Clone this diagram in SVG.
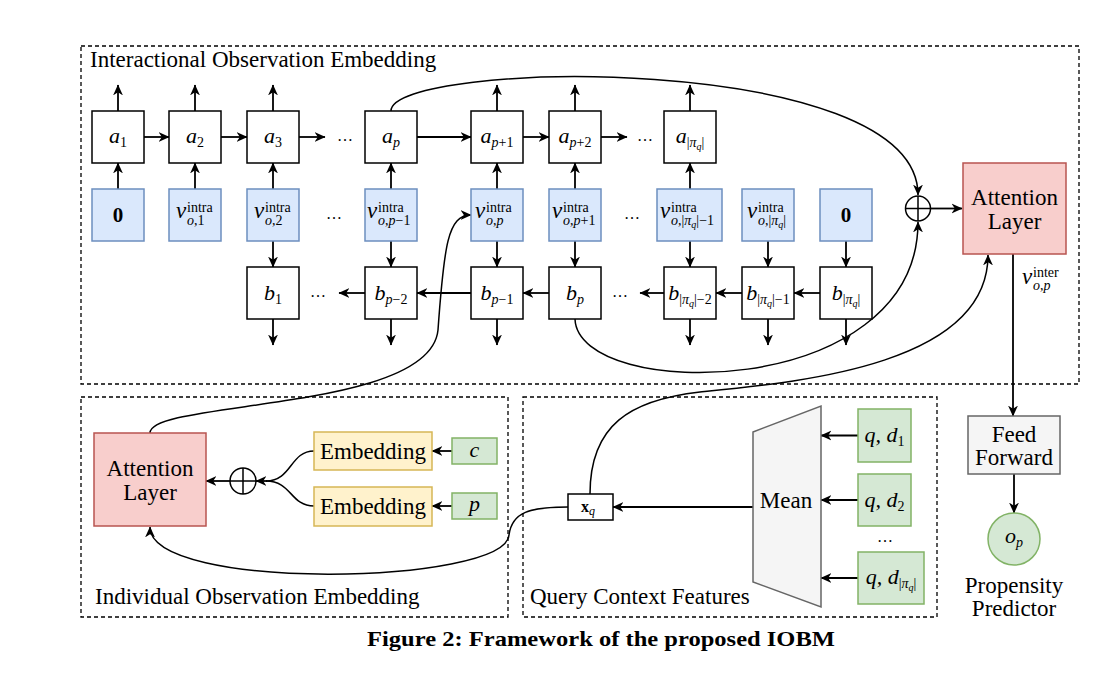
<svg xmlns="http://www.w3.org/2000/svg" width="1104" height="676" viewBox="0 0 1104 676">
<defs>
<marker id="ah" viewBox="0 0 10 10" refX="9.5" refY="5" markerWidth="11" markerHeight="11" orient="auto" markerUnits="userSpaceOnUse">
<path d="M0,0.5 L10,5 L0,9.5 L3,5 z" fill="#000"/>
</marker>
<style>
.panel{fill:none;stroke:#000;stroke-width:1.3;stroke-dasharray:4 3}
.bx{fill:#fff;stroke:#000;stroke-width:1.5}
.blue{fill:#dae8fc;stroke:#6c8ebf;stroke-width:1.5}
.pink{fill:#f8cecc;stroke:#b85450;stroke-width:1.5}
.yel{fill:#fff2cc;stroke:#d6b656;stroke-width:1.5}
.grn{fill:#d5e8d4;stroke:#82b366;stroke-width:1.5}
.gry{fill:#f5f5f5;stroke:#666;stroke-width:1.5}
.ln{fill:none;stroke:#000;stroke-width:1.8}
.ar{fill:none;stroke:#000;stroke-width:1.8;marker-end:url(#ah)}
.cv{fill:none;stroke:#000;stroke-width:1.5}
.cva{fill:none;stroke:#000;stroke-width:1.5;marker-end:url(#ah)}
.t{font-family:"Liberation Serif",serif;font-size:23px;fill:#000}
.mi{font-family:"Liberation Serif",serif;font-style:italic;font-size:22px;fill:#000}
.up{font-style:normal}
.s{font-size:14px}
.ss{font-size:10px}
.bold0{font-family:"Liberation Serif",serif;font-weight:bold;font-size:21px}
.dots{font-family:"Liberation Serif",serif;font-size:16px}
</style>
</defs>

<!-- panels -->
<g id="panel-interactional">
<rect class="panel" x="81" y="46" width="998" height="338"/>
<text class="t" x="90" y="67">Interactional Observation Embedding</text>
</g>
<g id="panel-individual">
<rect class="panel" x="81" y="397" width="427" height="220"/>
<text class="t" x="95" y="604">Individual Observation Embedding</text>
</g>
<g id="panel-query">
<rect class="panel" x="523" y="397" width="414" height="220"/>
<text class="t" x="530" y="604">Query Context Features</text>
</g>

<!-- connectors -->
<g id="connectors">
<line class="ar" x1="118" y1="111" x2="118" y2="85"/>
<line class="ar" x1="195" y1="111" x2="195" y2="85"/>
<line class="ar" x1="273" y1="111" x2="273" y2="85"/>
<line class="ar" x1="497" y1="111" x2="497" y2="85"/>
<line class="ar" x1="575" y1="111" x2="575" y2="85"/>
<line class="ar" x1="690" y1="111" x2="690" y2="85"/>
<line class="ar" x1="118" y1="189" x2="118" y2="163"/>
<line class="ar" x1="195" y1="189" x2="195" y2="163"/>
<line class="ar" x1="273" y1="189" x2="273" y2="163"/>
<line class="ar" x1="391" y1="189" x2="391" y2="163"/>
<line class="ar" x1="497" y1="189" x2="497" y2="163"/>
<line class="ar" x1="575" y1="189" x2="575" y2="163"/>
<line class="ar" x1="690" y1="189" x2="690" y2="163"/>
<line class="ar" x1="273" y1="241" x2="273" y2="267"/>
<line class="ar" x1="391" y1="241" x2="391" y2="267"/>
<line class="ar" x1="497" y1="241" x2="497" y2="267"/>
<line class="ar" x1="575" y1="241" x2="575" y2="267"/>
<line class="ar" x1="690" y1="241" x2="690" y2="267"/>
<line class="ar" x1="768" y1="241" x2="768" y2="267"/>
<line class="ar" x1="846" y1="241" x2="846" y2="267"/>
<line class="ar" x1="273" y1="319" x2="273" y2="345"/>
<line class="ar" x1="391" y1="319" x2="391" y2="345"/>
<line class="ar" x1="497" y1="319" x2="497" y2="345"/>
<line class="ar" x1="690" y1="319" x2="690" y2="345"/>
<line class="ar" x1="768" y1="319" x2="768" y2="345"/>
<line class="ar" x1="846" y1="319" x2="846" y2="345"/>
<line class="ar" x1="144" y1="137" x2="169" y2="137"/>
<line class="ar" x1="221" y1="137" x2="247" y2="137"/>
<line class="ar" x1="299" y1="137" x2="325" y2="137"/>
<line class="ar" x1="417" y1="137" x2="471" y2="137"/>
<line class="ar" x1="523" y1="137" x2="549" y2="137"/>
<line class="ar" x1="601" y1="137" x2="627" y2="137"/>
<line class="ar" x1="820" y1="293" x2="794" y2="293"/>
<line class="ar" x1="742" y1="293" x2="716" y2="293"/>
<line class="ar" x1="664" y1="293" x2="640" y2="293"/>
<line class="ar" x1="549" y1="293" x2="523" y2="293"/>
<line class="ar" x1="471" y1="293" x2="417" y2="293"/>
<line class="ar" x1="365" y1="293" x2="339" y2="293"/>
<path class="cva" d="M391,111 C391,60 918,50 918,195"/>
<path class="cva" d="M575,319 C578,402 918,402 918,222"/>
<line class="ar" x1="931" y1="208.5" x2="962" y2="208.5"/>
<line class="ar" x1="1013" y1="254" x2="1013" y2="416"/>
<line class="ar" x1="1014" y1="474" x2="1014" y2="513"/>
<path class="cva" d="M590,494 C590,425 630,400 700,392 C800,382 988,365 988,255"/>
<path class="cva" d="M150,433 C150,400 430,412 438,330 C444,245 448,215 471,215"/>
<path class="cva" d="M568,507 C530,507 512,512 509,535 C505,585 150,592 150,527"/>
<line class="ar" x1="753" y1="507" x2="613" y2="507"/>
<line class="ar" x1="858" y1="435.5" x2="821" y2="435.5"/>
<line class="ar" x1="858" y1="500" x2="821" y2="500"/>
<line class="ar" x1="858" y1="578" x2="821" y2="578"/>
<line class="ar" x1="452" y1="451" x2="432" y2="451"/>
<line class="ar" x1="452" y1="506" x2="432" y2="506"/>
<path class="cv" d="M314,451 C290,451 292,481 266,481"/>
<path class="cv" d="M314,506 C290,506 292,481 266,481"/>
<line class="ar" x1="267" y1="481" x2="256" y2="481"/>
<line class="ar" x1="230" y1="481" x2="206" y2="481"/>
</g>

<g id="ellipses" class="dots">
<text x="345" y="141" text-anchor="middle">…</text>
<text x="645" y="141" text-anchor="middle">…</text>
<text x="334" y="219" text-anchor="middle">…</text>
<text x="632" y="219" text-anchor="middle">…</text>
<text x="318" y="297" text-anchor="middle">…</text>
<text x="620" y="297" text-anchor="middle">…</text>
<text x="885" y="542" text-anchor="middle">…</text>
</g>

<g id="a1"><rect class="bx" x="92" y="111" width="52" height="52"/><text class="mi" x="118" y="143" text-anchor="middle">a<tspan class="s up" dy="4">1</tspan></text></g>
<g id="a2"><rect class="bx" x="169" y="111" width="52" height="52"/><text class="mi" x="195" y="143" text-anchor="middle">a<tspan class="s up" dy="4">2</tspan></text></g>
<g id="a3"><rect class="bx" x="247" y="111" width="52" height="52"/><text class="mi" x="273" y="143" text-anchor="middle">a<tspan class="s up" dy="4">3</tspan></text></g>
<g id="ap"><rect class="bx" x="365" y="111" width="52" height="52"/><text class="mi" x="391" y="143" text-anchor="middle">a<tspan class="s" dy="4">p</tspan></text></g>
<g id="ap1"><rect class="bx" x="471" y="111" width="52" height="52"/><text class="mi" x="497" y="143" text-anchor="middle">a<tspan class="s" dy="4">p</tspan><tspan class="s up">+1</tspan></text></g>
<g id="ap2"><rect class="bx" x="549" y="111" width="52" height="52"/><text class="mi" x="575" y="143" text-anchor="middle">a<tspan class="s" dy="4">p</tspan><tspan class="s up">+2</tspan></text></g>
<g id="apiq"><rect class="bx" x="664" y="111" width="52" height="52"/><text class="mi" x="690" y="143" text-anchor="middle">a<tspan class="s up" dy="4">|</tspan><tspan class="s">π</tspan><tspan class="ss" dy="3">q</tspan><tspan class="s up" dy="-3">|</tspan></text></g>

<g id="z0"><rect class="blue" x="92" y="189" width="52" height="52"/><text class="bold0" x="118" y="222" text-anchor="middle">0</text></g>
<g id="v1"><rect class="blue" x="169" y="189" width="52" height="52"/><text class="mi"><tspan x="176" y="218" font-size="23">v</tspan><tspan class="s up" x="187" y="212">intra</tspan><tspan class="s" x="187" y="225">o<tspan class="up">,1</tspan></tspan></text></g>
<g id="v2"><rect class="blue" x="247" y="189" width="52" height="52"/><text class="mi"><tspan x="254" y="218" font-size="23">v</tspan><tspan class="s up" x="265" y="212">intra</tspan><tspan class="s" x="265" y="225">o<tspan class="up">,2</tspan></tspan></text></g>
<g id="vpm1"><rect class="blue" x="365" y="189" width="52" height="52"/><text class="mi"><tspan x="367" y="218" font-size="23">v</tspan><tspan class="s up" x="378" y="212">intra</tspan><tspan class="s" x="378" y="225">o<tspan class="up">,</tspan>p<tspan class="up">−1</tspan></tspan></text></g>
<g id="vp"><rect class="blue" x="471" y="189" width="52" height="52"/><text class="mi"><tspan x="475" y="218" font-size="23">v</tspan><tspan class="s up" x="486" y="212">intra</tspan><tspan class="s" x="486" y="225">o<tspan class="up">,</tspan>p</tspan></text></g>
<g id="vpp1"><rect class="blue" x="549" y="189" width="52" height="52"/><text class="mi"><tspan x="552" y="218" font-size="23">v</tspan><tspan class="s up" x="563" y="212">intra</tspan><tspan class="s" x="563" y="225">o<tspan class="up">,</tspan>p<tspan class="up">+1</tspan></tspan></text></g>
<g id="vpiqm1"><rect class="blue" x="657" y="189" width="65" height="52"/><text class="mi"><tspan x="660" y="218" font-size="23">v</tspan><tspan class="s up" x="671" y="212">intra</tspan><tspan class="s" x="671" y="225">o<tspan class="up">,|</tspan>π</tspan><tspan class="ss" dy="3">q</tspan><tspan class="s up" dy="-3">|−1</tspan></text></g>
<g id="vpiq"><rect class="blue" x="742" y="189" width="52" height="52"/><text class="mi"><tspan x="747" y="218" font-size="23">v</tspan><tspan class="s up" x="758" y="212">intra</tspan><tspan class="s" x="758" y="225">o<tspan class="up">,|</tspan>π</tspan><tspan class="ss" dy="3">q</tspan><tspan class="s up" dy="-3">|</tspan></text></g>
<g id="z1"><rect class="blue" x="820" y="189" width="52" height="52"/><text class="bold0" x="846" y="222" text-anchor="middle">0</text></g>

<g id="b1"><rect class="bx" x="247" y="267" width="52" height="52"/><text class="mi" x="273" y="300" text-anchor="middle">b<tspan class="s up" dy="4">1</tspan></text></g>
<g id="bpm2"><rect class="bx" x="365" y="267" width="52" height="52"/><text class="mi" x="391" y="300" text-anchor="middle">b<tspan class="s" dy="4">p</tspan><tspan class="s up">−2</tspan></text></g>
<g id="bpm1"><rect class="bx" x="471" y="267" width="52" height="52"/><text class="mi" x="497" y="300" text-anchor="middle">b<tspan class="s" dy="4">p</tspan><tspan class="s up">−1</tspan></text></g>
<g id="bp"><rect class="bx" x="549" y="267" width="52" height="52"/><text class="mi" x="575" y="300" text-anchor="middle">b<tspan class="s" dy="4">p</tspan></text></g>
<g id="bpiqm2"><rect class="bx" x="664" y="267" width="52" height="52"/><text class="mi" x="690" y="300" text-anchor="middle">b<tspan class="s up" dy="4">|</tspan><tspan class="s">π</tspan><tspan class="ss" dy="3">q</tspan><tspan class="s up" dy="-3">|−2</tspan></text></g>
<g id="bpiqm1"><rect class="bx" x="742" y="267" width="52" height="52"/><text class="mi" x="768" y="300" text-anchor="middle">b<tspan class="s up" dy="4">|</tspan><tspan class="s">π</tspan><tspan class="ss" dy="3">q</tspan><tspan class="s up" dy="-3">|−1</tspan></text></g>
<g id="bpiq"><rect class="bx" x="820" y="267" width="52" height="52"/><text class="mi" x="846" y="300" text-anchor="middle">b<tspan class="s up" dy="4">|</tspan><tspan class="s">π</tspan><tspan class="ss" dy="3">q</tspan><tspan class="s up" dy="-3">|</tspan></text></g>

<g id="oplus-top"><circle cx="918" cy="208.5" r="12.5" fill="#fff" stroke="#000" stroke-width="1.5"/><path d="M905.5,208.5 H930.5 M918,196 V221" stroke="#000" stroke-width="1.5"/></g>
<g id="attn-top"><rect class="pink" x="963" y="163" width="103" height="91"/><text class="t" x="1014.5" y="205" text-anchor="middle">Attention</text><text class="t" x="1014.5" y="229" text-anchor="middle">Layer</text></g>
<g id="vinter-label"><text class="mi"><tspan x="1022" y="284" font-size="23">v</tspan><tspan class="s up" x="1033" y="277">inter</tspan><tspan class="s" x="1033" y="290">o<tspan class="up">,</tspan>p</tspan></text></g>

<g id="feedforward"><rect class="gry" x="968" y="416" width="92" height="58"/><text class="t" x="1014" y="442" text-anchor="middle" fill="#333">Feed</text><text class="t" x="1014" y="465" text-anchor="middle" fill="#333">Forward</text></g>
<g id="op"><circle class="grn" cx="1014" cy="539" r="26"/><text class="mi" x="1014" y="543" text-anchor="middle" font-size="19">o<tspan class="s" dy="4">p</tspan></text>
<text class="t" x="1014" y="593" text-anchor="middle">Propensity</text><text class="t" x="1014" y="616" text-anchor="middle">Predictor</text></g>

<g id="attn-bottom"><rect class="pink" x="94" y="433" width="112" height="93"/><text class="t" x="150" y="476" text-anchor="middle">Attention</text><text class="t" x="150" y="500" text-anchor="middle">Layer</text></g>
<g id="oplus-bottom"><circle cx="243" cy="481" r="13" fill="#fff" stroke="#000" stroke-width="1.5"/><path d="M230,481 H256 M243,468 V494" stroke="#000" stroke-width="1.5"/></g>
<g id="emb-c"><rect class="yel" x="314" y="432" width="118" height="38"/><text class="t" x="373" y="459" text-anchor="middle">Embedding</text></g>
<g id="emb-p"><rect class="yel" x="314" y="487" width="118" height="39"/><text class="t" x="373" y="514" text-anchor="middle">Embedding</text></g>
<g id="c"><rect class="grn" x="452" y="438" width="45" height="26"/><text class="mi" x="474.5" y="457" text-anchor="middle" font-size="19">c</text></g>
<g id="p"><rect class="grn" x="452" y="493" width="45" height="26"/><text class="mi" x="474.5" y="511" text-anchor="middle" font-size="19">p</text></g>

<g id="xq"><rect class="bx" x="568" y="494" width="45" height="26"/><text x="588" y="512" text-anchor="middle" font-family="Liberation Serif, serif" font-weight="bold" font-size="16">x<tspan font-weight="normal" font-style="italic" font-size="12" dy="3">q</tspan></text></g>
<g id="mean"><polygon class="gry" points="753,432 821,406 821,607 753,582"/><text class="t" x="786" y="508" text-anchor="middle" font-size="22">Mean</text></g>
<g id="qd1"><rect class="grn" x="858" y="409" width="53" height="53"/><text class="mi" x="884.5" y="442" text-anchor="middle">q, d<tspan class="s up" dy="4">1</tspan></text></g>
<g id="qd2"><rect class="grn" x="858" y="474" width="53" height="52"/><text class="mi" x="884.5" y="507" text-anchor="middle">q, d<tspan class="s up" dy="4">2</tspan></text></g>
<g id="qdn"><rect class="grn" x="858" y="552" width="66" height="52"/><text class="mi" x="891" y="584" text-anchor="middle">q, d<tspan class="s up" dy="4">|</tspan><tspan class="s">π</tspan><tspan class="ss" dy="3">q</tspan><tspan class="s up" dy="-3">|</tspan></text></g>

<text x="367" y="646" font-family="Liberation Serif, serif" font-weight="bold" font-size="21" textLength="468" lengthAdjust="spacingAndGlyphs">Figure 2: Framework of the proposed IOBM</text>
</svg>
